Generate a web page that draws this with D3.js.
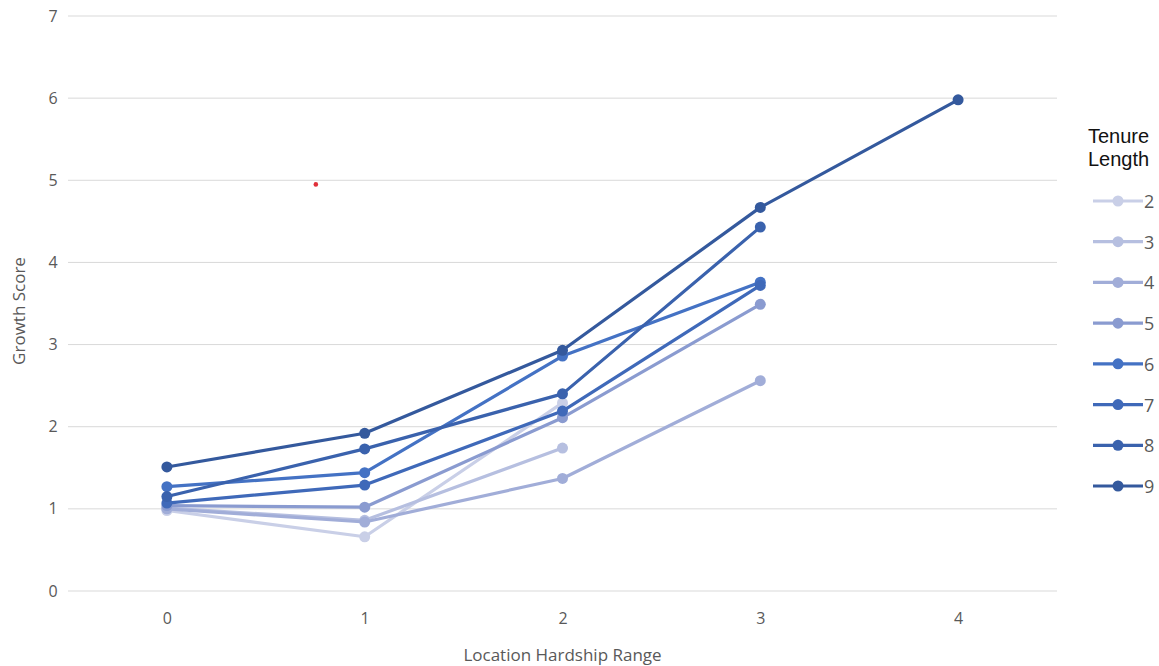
<!DOCTYPE html>
<html>
<head>
<meta charset="utf-8">
<script src="https://cdn.jsdelivr.net/npm/d3@7"></script>
<style>
  body { margin: 0; background: #fff; }
  svg { display: block; }
</style>
</head>
<body>
<svg class="lineChart" width="1159" height="666"></svg>
<script>
// hardship range categories on the x axis
const hardship = [0, 1, 2, 3, 4];
const yTicks = [0, 1, 2, 3, 4, 5, 6, 7];

// tenure length series (one value per hardship range, missing = not drawn)
const tenures = [2, 3, 4, 5, 6, 7, 8, 9];
const t2 = [0.98, 0.66, 2.29];
const t3 = [1.01, 0.86, 1.74];
const t4 = [1.00, 0.84, 1.37, 2.56];
const t5 = [1.04, 1.02, 2.11, 3.49];
const t6 = [1.27, 1.44, 2.86, 3.76];
const t7 = [1.07, 1.29, 2.19, 3.72];
const t8 = [1.15, 1.73, 2.40, 4.43];
const t9 = [1.51, 1.92, 2.93, 4.67, 5.98];
const seriesValues = [t2, t3, t4, t5, t6, t7, t8, t9];

const seriesColors = ["#c9cfe7", "#b6bfe0", "#a1add8", "#8a9bd0", "#4472c4", "#3f69b9", "#3a62ad", "#34599d"];

// small red speck that sits in the plot area
const stray = [{x: 0.753, y: 4.95}];

class LineChart {
  constructor(sel) {
    this.svg = d3.select(sel);
  }

  draw() {
    const svg = this.svg;
    const left = 68, right = 1057, top = 16, bottom = 591;

    const x = d3.scaleLinear().domain([-0.5, 4.5]).range([left, right]);
    const y = d3.scaleLinear().domain([0, 7]).range([bottom, top]);

    // gridlines
    svg.append("g")
      .selectAll("line")
      .data(yTicks)
      .join("line")
      .attr("x1", left).attr("x2", right)
      .attr("y1", d => y(d)).attr("y2", d => y(d))
      .attr("stroke", "#d9d9d9").attr("stroke-width", 1);

    // y axis labels
    const yAxis = svg.append("g")
      .attr("transform", `translate(${left},0)`)
      .call(d3.axisLeft(y).tickValues(yTicks).tickFormat(d3.format("d")).tickSize(0).tickPadding(20));
    yAxis.select(".domain").remove();
    yAxis.selectAll("text")
      .attr("font-family", "Open Sans").attr("font-size", 16).attr("fill", "#595959")
      .attr("text-anchor", "middle").attr("dx", 5);

    // x axis labels
    const xAxis = svg.append("g")
      .attr("transform", `translate(0,${bottom})`)
      .call(d3.axisBottom(x).tickValues(hardship).tickFormat(d3.format("d")).tickSize(0).tickPadding(22));
    xAxis.select(".domain").remove();
    xAxis.selectAll("text")
      .attr("font-family", "Open Sans").attr("font-size", 16).attr("fill", "#595959");

    // axis titles
    svg.append("text")
      .attr("x", (x(0) + x(4)) / 2).attr("y", 661)
      .attr("text-anchor", "middle")
      .attr("font-family", "Open Sans").attr("font-size", 17).attr("fill", "#595959")
      .text("Location Hardship Range");

    svg.append("text")
      .attr("transform", "translate(25,311) rotate(-90)")
      .attr("text-anchor", "middle")
      .attr("font-family", "Open Sans").attr("font-size", 17).attr("fill", "#595959")
      .text("Growth Score");

    // lines + markers
    const line = d3.line().x((d, i) => x(hardship[i])).y(d => y(d));
    const groups = svg.append("g")
      .selectAll("g")
      .data(seriesValues)
      .join("g");

    groups.append("path")
      .attr("d", d => line(d))
      .attr("fill", "none")
      .attr("stroke", (d, i) => seriesColors[i])
      .attr("stroke-width", 3.2)
      .attr("stroke-linejoin", "round");

    groups.selectAll("circle")
      .data((d, i) => d.map((v, j) => ({v: v, j: j, c: seriesColors[i]})))
      .join("circle")
      .attr("cx", d => x(hardship[d.j]))
      .attr("cy", d => y(d.v))
      .attr("r", 5.5)
      .attr("fill", d => d.c);

    svg.append("g")
      .selectAll("circle")
      .data(stray)
      .join("circle")
      .attr("cx", d => x(d.x)).attr("cy", d => y(d.y))
      .attr("r", 2.3).attr("fill", "#e0303a");

    // legend
    const legend = svg.append("g").attr("transform", "translate(1088,0)");
    legend.append("text")
      .attr("x", 0).attr("y", 143)
      .attr("font-family", "Liberation Sans").attr("font-size", 20).attr("fill", "#111")
      .text("Tenure");
    legend.append("text")
      .attr("x", 0).attr("y", 166)
      .attr("font-family", "Liberation Sans").attr("font-size", 20).attr("fill", "#111")
      .text("Length");

    const ly = d3.scalePoint().domain(tenures).range([201, 486]);
    const items = legend.selectAll("g.item")
      .data(tenures)
      .join("g")
      .attr("class", "item")
      .attr("transform", d => `translate(0,${ly(d)})`);
    items.append("line")
      .attr("x1", 5).attr("x2", 55)
      .attr("stroke", (d, i) => seriesColors[i]).attr("stroke-width", 3.2);
    items.append("circle")
      .attr("cx", 30).attr("r", 5.5)
      .attr("fill", (d, i) => seriesColors[i]);
    items.append("text")
      .attr("x", 56).attr("y", 7)
      .attr("font-family", "Open Sans").attr("font-size", 18).attr("fill", "#595959")
      .text(d => d);
  }
}

new LineChart(".lineChart").draw();
</script>
</body>
</html>
